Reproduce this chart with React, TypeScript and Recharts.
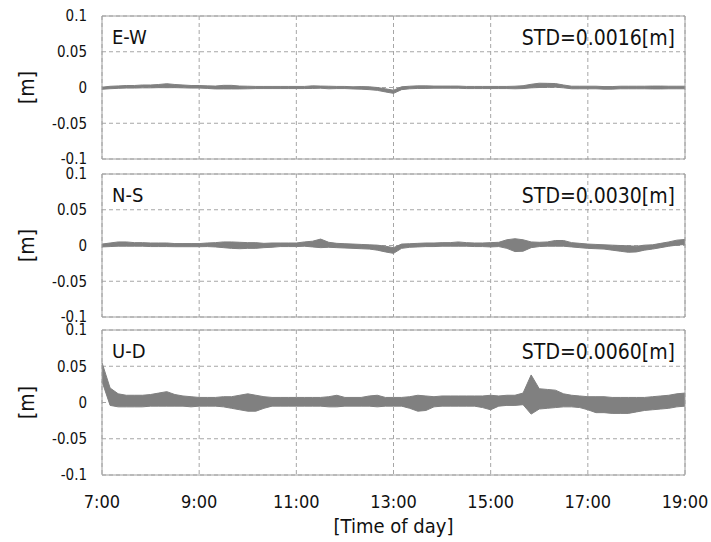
import React from 'react';
import { AreaChart, Area, XAxis, YAxis, CartesianGrid, ReferenceArea, Label } from 'recharts';

const hourTicks = [7, 9, 11, 13, 15, 17, 19];
const metreTicks = [-0.1, -0.05, 0, 0.05, 0.1];
const panelNames = ['E-W', 'N-S', 'U-D'];
const stdLabels = ['STD=0.0016[m]', 'STD=0.0030[m]', 'STD=0.0060[m]'];

// band centre and half width [m], one value every 10 minutes from 7:00 to 19:00
const ewMid = [
  -0.001, 0, 0.0005, 0.001, 0.001, 0.0015, 0.0015, 0.002, 0.0025, 0.002, 0.0015, 0.001, 0.001,
  0.0005, 0, 0.0005, 0.0005, 0, 0, 0, 0, 0, 0, 0, 0,
  0, 0.0005, 0.0005, 0, 0, 0, -0.0005, -0.0005, -0.001, -0.002, -0.004, -0.006,
  -0.001, 0, 0.0005, 0.0005, 0.0005, 0.0005, 0.0005, 0.0005, 0, 0, 0, 0,
  0, 0, 0, 0.0005, 0.002, 0.003, 0.003, 0.003, 0.0015, 0, 0, 0,
  0, -0.0005, -0.0005, 0, 0, 0, 0, 0, 0, 0, 0, 0,
];
const ewHalf = [
  0.0015, 0.0017, 0.0017, 0.0018, 0.0018, 0.002, 0.002, 0.0022, 0.0028, 0.0022, 0.002, 0.0018, 0.0018,
  0.0018, 0.002, 0.0025, 0.0025, 0.002, 0.0018, 0.0015, 0.0015, 0.0015, 0.0015, 0.0015, 0.0015,
  0.0015, 0.0018, 0.0015, 0.0018, 0.0015, 0.0015, 0.0015, 0.0018, 0.002, 0.002, 0.0022, 0.0022,
  0.002, 0.0018, 0.0018, 0.0018, 0.0015, 0.0015, 0.0015, 0.0015, 0.0015, 0.0015, 0.0015, 0.0015,
  0.0015, 0.0015, 0.0018, 0.002, 0.0025, 0.003, 0.0028, 0.0025, 0.002, 0.0018, 0.0018, 0.0018,
  0.0018, 0.0018, 0.0018, 0.0018, 0.0018, 0.0018, 0.0018, 0.002, 0.002, 0.0018, 0.0018, 0.0018,
];

const nsMid = [
  0, 0.001, 0.002, 0.002, 0.0015, 0.0015, 0.001, 0.001, 0.001, 0.0005, 0.0005, 0.0005, 0.0005,
  0.001, 0.001, 0.001, 0.0005, 0, 0, 0, 0, 0.0005, 0.001, 0.001, 0.001,
  0.002, 0.002, 0.003, 0.001, 0, -0.0005, -0.001, -0.0015, -0.002, -0.003, -0.005, -0.007,
  -0.001, 0, 0.0005, 0.001, 0.001, 0.0015, 0.0015, 0.002, 0.0015, 0.001, 0.001, 0.001,
  0.0015, 0.002, 0.0005, 0, 0.001, 0.0015, 0.002, 0.003, 0.003, 0.001, 0, -0.001,
  -0.0015, -0.002, -0.003, -0.004, -0.005, -0.005, -0.003, -0.002, 0, 0.002, 0.004, 0.005,
];
const nsHalf = [
  0.002, 0.0025, 0.003, 0.003, 0.0025, 0.0025, 0.0025, 0.0025, 0.0025, 0.0022, 0.0022, 0.0022, 0.0022,
  0.0025, 0.003, 0.004, 0.0045, 0.0045, 0.004, 0.004, 0.003, 0.003, 0.0025, 0.0025, 0.0025,
  0.003, 0.004, 0.006, 0.0035, 0.003, 0.003, 0.003, 0.003, 0.003, 0.0035, 0.004, 0.004,
  0.003, 0.0025, 0.0025, 0.0025, 0.0025, 0.0025, 0.0025, 0.003, 0.0025, 0.0025, 0.0025, 0.003,
  0.003, 0.006, 0.009, 0.008, 0.004, 0.003, 0.003, 0.004, 0.004, 0.003, 0.003, 0.003,
  0.003, 0.003, 0.0035, 0.004, 0.0045, 0.004, 0.0035, 0.003, 0.003, 0.003, 0.0035, 0.0035,
];

const udMid = [
  0.042, 0.008, 0.003, 0.002, 0.002, 0.002, 0.003, 0.004, 0.005, 0.003, 0.002, 0.001, 0.001,
  0.001, 0.001, 0.001, 0, 0, 0, -0.001, 0, 0.001, 0.001, 0.001, 0.001,
  0.001, 0.001, 0.001, 0.001, 0.002, 0.001, 0.001, 0.001, 0.002, 0.002, 0.001, 0.001,
  0.001, 0, -0.001, -0.001, 0.001, 0.002, 0.002, 0.002, 0.002, 0.002, 0.001, 0,
  0.002, 0.003, 0.003, 0.005, 0.011, 0.005, 0.005, 0.005, 0.003, 0.002, 0.001, -0.001,
  -0.003, -0.003, -0.004, -0.004, -0.004, -0.003, -0.002, -0.001, 0, 0.001, 0.003, 0.004,
];
const udHalf = [
  0.013, 0.012, 0.009, 0.008, 0.008, 0.008, 0.008, 0.009, 0.01, 0.008, 0.007, 0.007, 0.006,
  0.006, 0.006, 0.007, 0.008, 0.01, 0.012, 0.011, 0.008, 0.006, 0.006, 0.006, 0.006,
  0.006, 0.006, 0.006, 0.007, 0.008, 0.006, 0.006, 0.006, 0.007, 0.008, 0.006, 0.006,
  0.006, 0.008, 0.011, 0.01, 0.007, 0.007, 0.007, 0.007, 0.007, 0.007, 0.008, 0.01,
  0.007, 0.007, 0.007, 0.008, 0.027, 0.014, 0.013, 0.012, 0.009, 0.008, 0.008, 0.009,
  0.011, 0.011, 0.011, 0.011, 0.011, 0.01, 0.009, 0.009, 0.009, 0.009, 0.009, 0.009,
];

const FONT = "'DejaVu Sans Condensed', 'DejaVu Sans', sans-serif";
const INK = '#111';
const TRACE = '#808080';

type PanelProps = {
  index: number;
  mid: number[];
  half: number[];
  top: number;
  height: number;
  marginTop: number;
  marginBottom: number;
  showTime?: boolean;
};

const Panel = ({ index, mid, half, top, height, marginTop, marginBottom, showTime }: PanelProps) => {
  const data = mid.map((m, i) => ({ t: 7 + i / 6, band: [m - half[i], m + half[i]] }));
  return (
    <div style={{ position: 'absolute', left: 0, top }}>
      <AreaChart
        width={711}
        height={height}
        data={data}
        margin={{ top: marginTop, right: 26, bottom: marginBottom, left: 0 }}
      >
        <CartesianGrid stroke="#a6a6a6" strokeDasharray="4 3" />
        <XAxis
          dataKey="t"
          type="number"
          domain={[7, 19]}
          ticks={hourTicks}
          interval={0}
          hide={!showTime}
          height={showTime ? 67 : 0}
          axisLine={false}
          tickLine={false}
          tickSize={0}
          tickMargin={20}
          tickFormatter={(h: number) => `${h}:00`}
          tick={{ fontSize: 18, fill: INK, fontFamily: FONT }}
          label={
            showTime
              ? {
                  content: ({ viewBox }: any) => (
                    <text
                      x={viewBox.x + viewBox.width / 2}
                      y={viewBox.y + 58}
                      textAnchor="middle"
                      fontSize={20}
                      fontFamily={FONT}
                      fill={INK}
                    >
                      [Time of day]
                    </text>
                  ),
                }
              : undefined
          }
        />
        <YAxis
          type="number"
          domain={[-0.1, 0.1]}
          ticks={metreTicks}
          interval={0}
          width={102}
          axisLine={false}
          tickLine={false}
          tickSize={0}
          tickMargin={15}
          tickFormatter={(v: number) => String(v)}
          tick={{ fontSize: 15, fill: INK, fontFamily: FONT }}
          allowDataOverflow
        >
          <Label
            content={({ viewBox }: any) => (
              <text
                transform={`translate(27, ${viewBox.y + viewBox.height / 2}) rotate(-90)`}
                textAnchor="middle"
                dominantBaseline="central"
                fontSize={21}
                fontFamily={FONT}
                fill={INK}
              >
                [m]
              </text>
            )}
          />
        </YAxis>
        <Area
          type="linear"
          dataKey="band"
          stroke={TRACE}
          strokeWidth={1}
          fill={TRACE}
          fillOpacity={1}
          dot={false}
          activeDot={false}
          isAnimationActive={false}
        />
        <ReferenceArea x1={7} x2={19} y1={-0.1} y2={0.1} fill="none" stroke="#a0a0a0" strokeWidth={1}>
          <Label
            content={({ viewBox }: any) => (
              <g fontFamily={FONT} fill={INK}>
                <text x={viewBox.x + 10} y={viewBox.y + 28} fontSize={20}>
                  {panelNames[index]}
                </text>
                <text x={viewBox.x + viewBox.width - 10} y={viewBox.y + 29} fontSize={21} textAnchor="end">
                  {stdLabels[index]}
                </text>
              </g>
            )}
          />
        </ReferenceArea>
      </AreaChart>
    </div>
  );
};

export default function App() {
  return (
    <div style={{ position: 'absolute', left: 0, top: 0, width: 711, height: 542, background: '#fff' }}>
      <style>{'.recharts-surface { overflow: visible; }'}</style>
      <Panel index={0} mid={ewMid} half={ewHalf} top={0} height={168} marginTop={16} marginBottom={9} />
      <Panel index={1} mid={nsMid} half={nsHalf} top={168} height={155} marginTop={6} marginBottom={6} />
      <Panel index={2} mid={udMid} half={udHalf} top={323} height={219} marginTop={7} marginBottom={0} showTime />
    </div>
  );
}
